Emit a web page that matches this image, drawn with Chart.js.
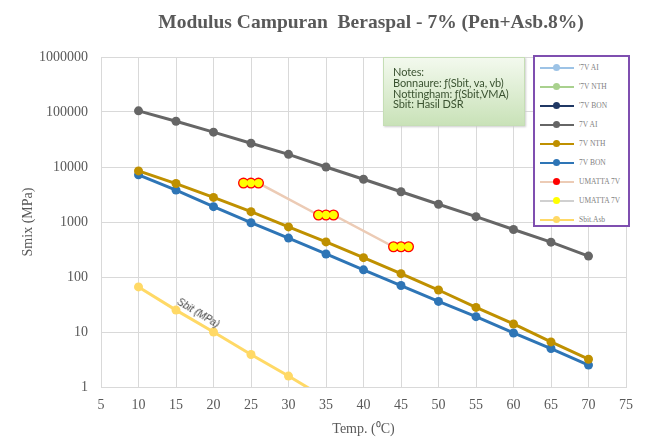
<!DOCTYPE html>
<html>
<head>
<meta charset="utf-8">
<script src="https://cdn.jsdelivr.net/npm/chart.js@4.4.1/dist/chart.umd.min.js"></script>
<style>
  html, body { margin: 0; padding: 0; background: #fff; }
  #wrap { position: relative; width: 654px; height: 448px; overflow: hidden; }
  #title { position: absolute; left: 0; width: 742px; top: 11px; text-align: center;
           font: bold 19.5px "Liberation Serif", serif; color: #595959; white-space: pre; }
  #notes { position: absolute; left: 383px; top: 57px; width: 131px; height: 58px; padding: 9px 0 0 9px;
           border: 1px solid #c5deb5; background: linear-gradient(#f3f9ee, #c9e2b8);
           font: 11px/10.8px Lato, sans-serif; color: #3a5230; box-shadow: 1px 1px 2px #ccc;
           letter-spacing: -0.1px; white-space: nowrap; }
  #legend { position: absolute; left: 533px; top: 55px; width: 93px; height: 168px;
            border: 2px solid #7f4fb0; background: #fff; overflow: hidden; }
  .item { position: absolute; left: 5px; height: 12px; white-space: nowrap;
          font: 7.5px "Liberation Serif", serif; color: #7f7f7f; }
  .item .ln { position: absolute; left: 0; top: 5px; width: 34px; height: 2px; }
  .item .mk { position: absolute; left: 13px; top: 2px; width: 7px; height: 7px; border-radius: 50%; }
  .item span { position: absolute; left: 39px; top: 1px; }
  #sbitlbl { position: absolute; left: 181px; top: 296px; transform: rotate(31deg); transform-origin: left top;
             font: italic 10px "Liberation Sans", sans-serif; color: #404040; }
</style>
</head>
<body>
<div id="wrap">
  <canvas id="chart1" width="654" height="448"></canvas>
  <div id="title">Modulus Campuran  Beraspal - 7% (Pen+Asb.8%)</div>
  <div id="notes">Notes:<br>Bonnaure: ƒ(Sbit, va, vb)<br>Nottingham: ƒ(Sbit,VMA)<br>Sbit: Hasil DSR</div>
  <div id="legend"></div>
  <div id="sbitlbl">Sbit (MPa)</div>
</div>
<script>
const temps = [10, 15, 20, 25, 30, 35, 40, 45, 50, 55, 60, 65, 70];
const ai7 = [105000, 68000, 43000, 27000, 17000, 10000, 6000, 3550, 2100, 1250, 730, 430, 240];
const nth7 = [8500, 5000, 2800, 1540, 815, 435, 225, 115, 58, 28, 14, 6.6, 3.2];
const bon7 = [7200, 3800, 1900, 970, 510, 262, 135, 70, 36, 19, 9.6, 5, 2.5];
const sbitTemps = [10, 15, 20, 25, 30, 35];
const sbit = [66, 25, 10, 3.9, 1.58, 0.62];
const umattaTemps = [24, 25, 26, 34, 35, 36, 44, 45, 46];
const umatta = [5100, 5100, 5100, 1340, 1340, 1340, 355, 355, 355];
const yTicks = [1, 10, 100, 1000, 10000, 100000, 1000000];

function pts(xs, ys) {
    return xs.map((x, i) => ({ x: x, y: ys[i] }));
}

function series(label, color, xs, ys, extra) {
    return Object.assign({
        label: label,
        data: xs.length ? pts(xs, ys) : [],
        borderColor: color,
        backgroundColor: color,
        pointBackgroundColor: color,
        pointBorderWidth: 0,
        pointRadius: 4.5,
        borderWidth: 3,
        showLine: true
    }, extra || {});
}

const serif = "'Liberation Serif', serif";

const Chart1 = new Chart(document.getElementById('chart1'), {
    type: 'scatter',
    data: {
        datasets: [
            series("'7V AI", '#9dc3e6', [], []),
            series("'7V NTH", '#a9d18e', [], []),
            series("'7V BON", '#203864', [], []),
            series('7V AI', '#666666', temps, ai7),
            series('7V NTH', '#bf9000', temps, nth7),
            series('7V BON', '#2e75b6', temps, bon7),
            series('UMATTA 7V', '#eccbb5', umattaTemps, umatta,
                { pointBackgroundColor: '#ff0000', pointRadius: 5.5, borderWidth: 2.5, order: 1 }),
            series('UMATTA 7V', '#d0d0d0', umattaTemps, umatta,
                { pointBackgroundColor: '#ffff00', pointRadius: 4.2, showLine: false, order: 0 }),
            series('Sbit.Asb', '#ffd966', sbitTemps, sbit)
        ].map(ds => Object.assign({ order: 2 }, ds))
    },
    options: {
        responsive: false,
        animation: false,
        layout: { padding: { top: 57, right: 28, left: 0, bottom: 0 } },
        plugins: {
            legend: { display: false },
            tooltip: { enabled: false }
        },
        scales: {
            x: {
                type: 'linear',
                min: 5,
                max: 75,
                afterFit: (scale) => { scale.height = 61; },
                ticks: { stepSize: 5, padding: 10, color: '#595959', font: { family: serif, size: 14 } },
                grid: { color: '#d9d9d9', drawTicks: false },
                border: { color: '#d9d9d9' },
                title: { display: true, text: 'Temp. (⁰C)', color: '#595959', font: { family: serif, size: 14 }, padding: { top: 0, bottom: 10 } }
            },
            y: {
                type: 'logarithmic',
                min: 1,
                max: 1000000,
                afterFit: (scale) => { scale.width = 101; },
                afterBuildTicks: (scale) => { scale.ticks = yTicks.map(v => ({ value: v })); },
                ticks: {
                    padding: 13,
                    color: '#595959',
                    font: { family: serif, size: 14 },
                    callback: (v) => String(v)
                },
                grid: { color: '#d9d9d9', drawTicks: false },
                border: { color: '#d9d9d9' },
                title: { display: true, text: 'Smix (MPa)', color: '#595959', font: { family: serif, size: 14 }, padding: { top: 20, bottom: 0 } }
            }
        }
    }
});

// legend box from the datasets
const legendBox = document.getElementById('legend');
Chart1.data.datasets.forEach((ds, i) => {
    const item = document.createElement('div');
    item.className = 'item';
    item.style.top = (5 + i * 19) + 'px';
    item.innerHTML = '<div class="ln" style="background:' + ds.borderColor + '"></div>' +
        '<div class="mk" style="background:' + ds.pointBackgroundColor + '"></div>' +
        '<span>' + ds.label + '</span>';
    legendBox.appendChild(item);
});
</script>
</body>
</html>
